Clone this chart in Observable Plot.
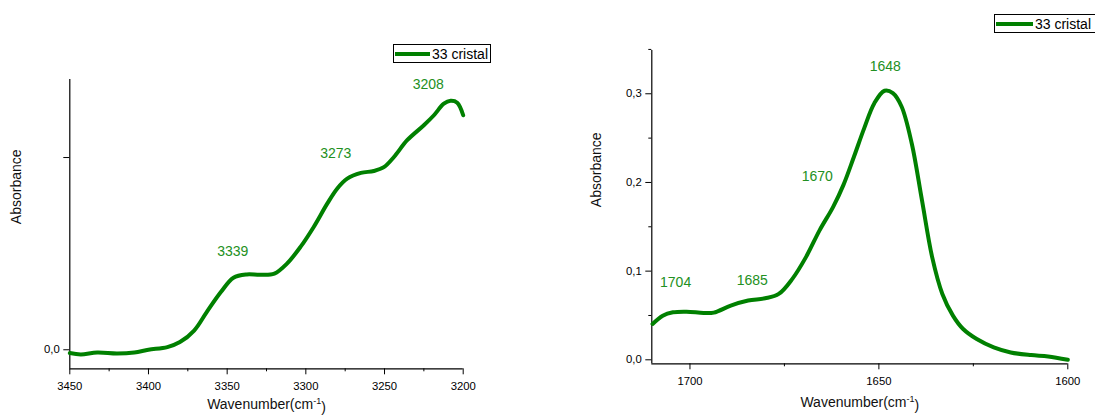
<!DOCTYPE html>
<html><head><meta charset="utf-8">
<script src="https://cdn.jsdelivr.net/npm/d3@7"></script>
<script src="https://cdn.jsdelivr.net/npm/@observablehq/plot@0.6"></script>
<style>
body{margin:0;background:#fff;font-family:"Liberation Sans",Arial,sans-serif;}
#wrap{position:relative;width:1095px;height:416px;overflow:hidden;background:#fff;}
.panel{position:absolute;top:0;}
.legend{position:absolute;box-sizing:border-box;border:1px solid #000;background:#fff;display:flex;align-items:center;font-size:14px;line-height:1;white-space:nowrap;color:#000;padding-left:1px;}
.legend .sw{display:inline-block;height:4px;background:#008000;margin-right:2px;}
</style></head><body><div id="wrap"></div>
<script>
const seriesName = "33 cristal";

// Left panel: O-H / N-H stretching region
const ohWavenumber = [3450, 3443, 3432.6, 3420, 3409, 3400, 3388, 3380, 3371, 3363, 3354, 3346, 3337.5, 3329, 3320, 3312, 3303.4, 3295, 3286.4, 3280, 3273.7, 3265, 3256.8, 3250.4, 3244, 3235.6, 3225, 3218.6, 3212.3, 3208, 3203.8, 3200];
const ohAbsorbance = [-0.0017, -0.0024, -0.0014, -0.0019, -0.0014, 0, 0.0014, 0.004, 0.010, 0.0196, 0.030, 0.0375, 0.0392, 0.039, 0.0396, 0.0448, 0.0535, 0.0639, 0.076, 0.0839, 0.089, 0.092, 0.093, 0.095, 0.1003, 0.109, 0.1168, 0.122, 0.128, 0.1295, 0.1285, 0.122];
const ohPeakLabels = ["3339", "3273", "3208"];
const ohPeakLabelX = [3346.4, 3281, 3222.2];
const ohPeakLabelY = [0.0509, 0.102, 0.138];
const ohXTicks = [3450, 3400, 3350, 3300, 3250, 3200];
const ohXMinor = [3425, 3375, 3325, 3275, 3225];
const ohYTicks = [0, 0.1];

// Right panel: amide I region
const amWavenumber = [1709.9, 1707.2, 1704.5, 1700.9, 1696.4, 1693.7, 1689.2, 1684.6, 1680.1, 1676.5, 1672.9, 1669.3, 1665.7, 1662.1, 1659.4, 1656.6, 1653.9, 1651.2, 1648.5, 1646.3, 1644.0, 1641.3, 1638.6, 1635.9, 1633.2, 1630.4, 1627.7, 1624.1, 1619.6, 1615.1, 1609.7, 1605.2, 1600];
const amAbsorbance = [0.0404, 0.0498, 0.0536, 0.0543, 0.0528, 0.0532, 0.0611, 0.0668, 0.0694, 0.0743, 0.0913, 0.1158, 0.146, 0.1725, 0.197, 0.229, 0.261, 0.2894, 0.3034, 0.3008, 0.2857, 0.244, 0.180, 0.1158, 0.0743, 0.0498, 0.0347, 0.0234, 0.014, 0.0083, 0.0053, 0.0038, 0];
const amPeakLabels = ["1704", "1685", "1670", "1648"];
const amPeakLabelX = [1703.8, 1683.5, 1666.3, 1648.3];
const amPeakLabelY = [0.0868, 0.0894, 0.2064, 0.331];
const amXTicks = [1700, 1650, 1600];
const amXMinor = [1675, 1625];
const amYTicks = [0, 0.1, 0.2, 0.3];
const amYMinor = [0.05, 0.15, 0.25, 0.35];

const xTitle = "Wavenumber(cm-1)";
const yTitle = "Absorbance";

const lineColor = "#008000";
const labelColor = "#229022";
const fmt = d => d3.format(".1f")(d).replace(".", ",");
const font = "'Liberation Sans', Arial, sans-serif";

function panel(o) {
  const rows = d3.zip(o.wn, o.ab).map(([x, y]) => ({x, y}));
  const labels = o.labels.map((t, i) => ({t, x: o.lx[i], y: o.ly[i]}));
  const marks = [
    Plot.axisX({ticks: o.xTicks, tickSize: 6, tickPadding: 7, tickFormat: d => String(d), label: null}),
    Plot.axisX({ticks: o.xMinor, tickSize: 3, tickFormat: () => "", label: null}),
    Plot.axisY({ticks: o.yTicks, tickSize: 6, tickPadding: 4, tickFormat: o.yFormat, label: null}),
  ];
  if (o.yMinor) marks.push(Plot.axisY({ticks: o.yMinor, tickSize: 3, tickFormat: () => "", label: null}));
  marks.push(
    Plot.ruleX([o.xDomain[0]], {stroke: "#000", strokeWidth: 1.2}),
    Plot.ruleY([o.yDomain[0]], {stroke: "#000", strokeWidth: 1.2}),
    Plot.line(rows, {x: "x", y: "y", stroke: lineColor, strokeWidth: 4, curve: "catmull-rom"}),
    Plot.text(labels, {x: "x", y: "y", text: "t", fill: labelColor, fontSize: 14}),
    Plot.text([yTitle], {frameAnchor: "left", rotate: -90, dx: o.yTitleDx, fontSize: 14, fill: "#111"}),
    Plot.text([xTitle], {frameAnchor: "bottom", dy: o.xTitleDy, fontSize: 14, fill: "#111"})
  );
  const svg = Plot.plot({
    width: o.width, height: 416,
    marginLeft: o.ml, marginRight: o.mr, marginTop: o.mt, marginBottom: o.mb,
    style: {fontFamily: font, fontSize: "11.3px", color: "#000", background: "transparent", overflow: "visible"},
    x: {domain: o.xDomain},
    y: {domain: o.yDomain},
    marks
  });
  d3.select(svg).selectAll("text").filter(function() { return this.textContent === xTitle; })
    .each(function() {
      const t = d3.select(this);
      t.text(null);
      t.append("tspan").text("Wavenumber(cm");
      t.append("tspan").attr("dy", "-0.55em").attr("font-size", "9px").text("-1");
      t.append("tspan").attr("dy", "0.55em").text(")");
    });
  return svg;
}

const wrap = document.getElementById("wrap");

const leftSvg = panel({
  width: 540, ml: 69.3, mr: 77.3, mt: 79, mb: 47.7,
  xDomain: [3450, 3200], yDomain: [-0.0099, 0.1406],
  wn: ohWavenumber, ab: ohAbsorbance,
  labels: ohPeakLabels, lx: ohPeakLabelX, ly: ohPeakLabelY,
  xTicks: ohXTicks, xMinor: ohXMinor, yTicks: ohYTicks, yMinor: null,
  yFormat: d => d === 0 ? "0,0" : "",
  yTitleDx: -53, xTitleDy: 40
});
const lp = document.createElement("div"); lp.className = "panel"; lp.style.left = "0px";
lp.appendChild(leftSvg); wrap.appendChild(lp);

const rightSvg = panel({
  width: 535, ml: 91.3, mr: 27.7, mt: 50, mb: 52.7,
  xDomain: [1710.1, 1600], yDomain: [-0.0045, 0.3488],
  wn: amWavenumber, ab: amAbsorbance,
  labels: amPeakLabels, lx: amPeakLabelX, ly: amPeakLabelY,
  xTicks: amXTicks, xMinor: amXMinor, yTicks: amYTicks, yMinor: amYMinor,
  yFormat: fmt,
  yTitleDx: -55.5, xTitleDy: 43
});
const rp = document.createElement("div"); rp.className = "panel"; rp.style.left = "560px";
rp.appendChild(rightSvg); wrap.appendChild(rp);

function legend(left, top, w, h, sw) {
  const d = document.createElement("div");
  d.className = "legend";
  Object.assign(d.style, {left: left + "px", top: top + "px", width: w + "px", height: h + "px"});
  const s = document.createElement("span"); s.className = "sw"; s.style.width = sw + "px";
  const tx = document.createElement("span"); tx.textContent = seriesName;
  d.appendChild(s); d.appendChild(tx);
  wrap.appendChild(d);
}
legend(393, 44, 98, 19, 35);
legend(994, 14, 120, 19, 37);
</script>
</body></html>
